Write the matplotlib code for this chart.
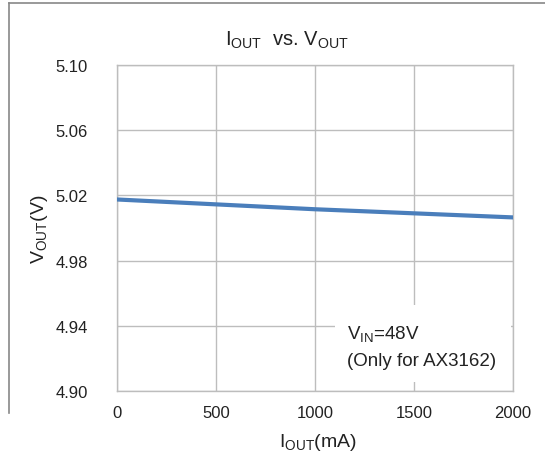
import matplotlib
matplotlib.use("Agg")
import matplotlib.pyplot as plt
from matplotlib.patches import Rectangle
from matplotlib.lines import Line2D

plt.rcParams['font.family'] = ['Liberation Sans', 'DejaVu Sans']
plt.rcParams['mathtext.fontset'] = 'custom'
plt.rcParams['mathtext.rm'] = 'Liberation Sans'

iout = [0, 500, 1000, 1500, 2000]
vout = [5.0175, 5.0145, 5.0115, 5.0090, 5.0065]
xticks = [0, 500, 1000, 1500, 2000]
yticks = [4.90, 4.94, 4.98, 5.02, 5.06, 5.10]

fig = plt.figure(figsize=(5.45, 4.64), dpi=100)
ax = fig.add_axes([117/545, 1-392/464, (513-117)/545, (392-66)/464])

ax.plot(iout, vout, color='#4a7ebb', lw=3.0, solid_capstyle='round', zorder=3)
ax.set_xlim(0, 2000)
ax.set_ylim(4.90, 5.10)
ax.set_xticks(xticks)
ax.set_yticks(yticks)
ax.set_yticklabels([f"{v:.2f}" for v in yticks], fontsize=12, color='#222222')
ax.set_xticklabels([str(v) for v in xticks], fontsize=12, color='#222222')
ax.tick_params(length=0, axis='y', pad=21)
ax.tick_params(length=0, axis='x', pad=10)
ax.grid(True, color='#bdbdbd', lw=1.0)
ax.set_axisbelow(True)
for s in ax.spines.values():
    s.set_color('#bdbdbd')
    s.set_linewidth(1.0)

# annotation box
ax.add_patch(Rectangle((1100, 4.9055), 890, 0.047, facecolor='white', edgecolor='none', zorder=2))
ax.text(1160, 4.935, r'V$_{\mathregular{IN}}$=48V', fontsize=13.5, color='#222222', zorder=4, va='center')
ax.text(1160, 4.9185, '(Only for AX3162)', fontsize=13.5, color='#222222', zorder=4, va='center')

fig.text(287/545, 1-40/464, r'I$_{\mathregular{OUT}}$  vs. V$_{\mathregular{OUT}}$', fontsize=14.5,
         ha='center', va='center', color='#222222')
fig.text(40/545, 1-229/464, r'V$_{\mathregular{OUT}}$(V)', fontsize=14, rotation=90,
         ha='center', va='center', color='#222222')
fig.text(318/545, 1-443/464, r'I$_{\mathregular{OUT}}$(mA)', fontsize=14,
         ha='center', va='center', color='#222222')

# outer border
fig.add_artist(Line2D([9/545, 9/545], [1-4/464, 1-414/464], color='#888888', lw=1.2))
fig.add_artist(Line2D([9/545, 1.0], [1-4/464, 1-4/464], color='#888888', lw=1.2))

fig.savefig('out.png', dpi=100)
